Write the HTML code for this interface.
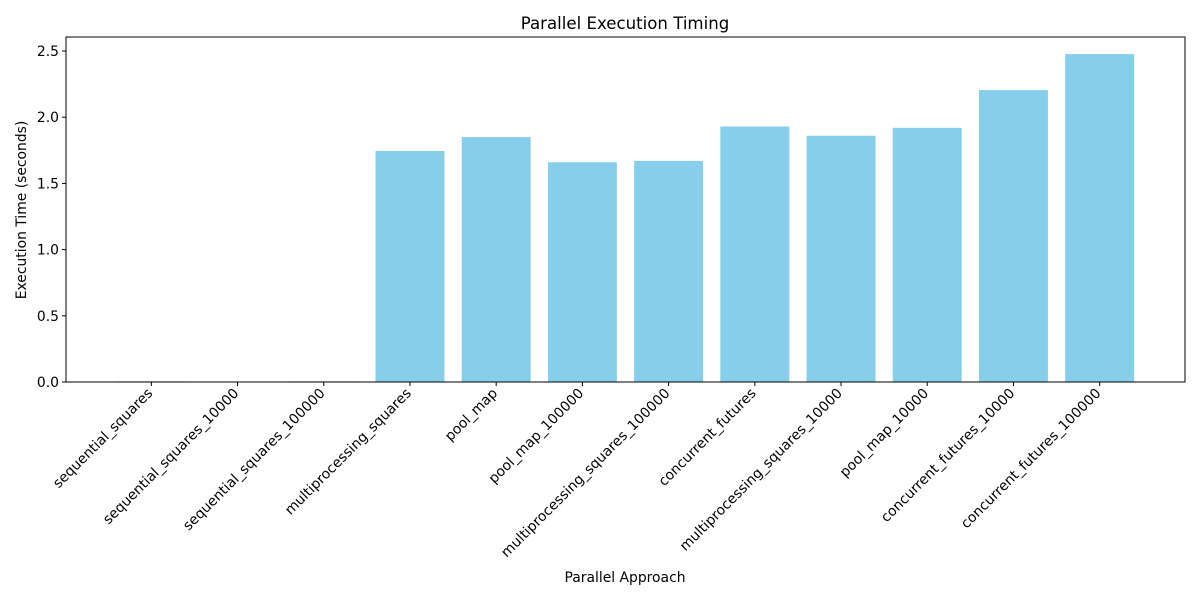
<!DOCTYPE html>
<html><head><meta charset="utf-8"><style>
body{margin:0;background:#fff;font-family:"DejaVu Sans","Liberation Sans",sans-serif;}
svg text{font-family:"DejaVu Sans","Liberation Sans",sans-serif;fill:#000;}
</style></head><body>
<svg id="chart" width="1200" height="600">
<text x="625" y="29" font-size="16.6" text-anchor="middle">Parallel Execution Timing</text>
<text x="625" y="582" font-size="13.9" text-anchor="middle">Parallel Approach</text>
<text transform="translate(26,210) rotate(-90)" font-size="13.9" text-anchor="middle">Execution Time (seconds)</text>
<g id="bars"></g><g id="ticks"></g>
<rect x="66" y="37" width="1119" height="345" fill="none" stroke="#000" stroke-width="1"/>
</svg>
<script>
const categories=["sequential_squares","sequential_squares_10000","sequential_squares_100000","multiprocessing_squares","pool_map","pool_map_100000","multiprocessing_squares_100000","concurrent_futures","multiprocessing_squares_10000","pool_map_10000","concurrent_futures_10000","concurrent_futures_100000"];
const values=[0.005,0.002,0.005,1.745,1.85,1.66,1.67,1.93,1.86,1.92,2.205,2.477];
const yTicks=[0,0.5,1.0,1.5,2.0,2.5];
const yTickLabels=["0.0","0.5","1.0","1.5","2.0","2.5"];
const L=66,R=1185,T=37,B=382;
const xmin=-0.99,xmax=categories.length-1+0.99,ymax=2.606;
const xs=v=>L+(v-xmin)/(xmax-xmin)*(R-L);
const ys=v=>B-v/ymax*(B-T);
const NS="http://www.w3.org/2000/svg";
const bars=document.getElementById('bars'),ticks=document.getElementById('ticks');
const bw=0.8*(R-L)/(xmax-xmin);
categories.forEach((c,i)=>{
 const r=document.createElementNS(NS,'rect');
 r.setAttribute('x',xs(i)-bw/2);r.setAttribute('y',ys(values[i]));
 r.setAttribute('width',bw);r.setAttribute('height',B-ys(values[i]));
 r.setAttribute('fill','#87ceeb');
 
 
 bars.appendChild(r);
 const t=document.createElementNS(NS,'line');
 t.setAttribute('x1',xs(i));t.setAttribute('x2',xs(i));t.setAttribute('y1',B);t.setAttribute('y2',B+4);t.setAttribute('stroke','#000');
 
 
 ticks.appendChild(t);
 const tx=document.createElementNS(NS,'text');
 tx.setAttribute('transform',`translate(${xs(i)+2},${B+12}) rotate(-45)`);
 tx.setAttribute('text-anchor','end');tx.setAttribute('font-size','13.9');
 tx.textContent=c;
 
 
 ticks.appendChild(tx);
});
yTicks.forEach((v,i)=>{
 const t=document.createElementNS(NS,'line');
 t.setAttribute('x1',L-4);t.setAttribute('x2',L);t.setAttribute('y1',ys(v));t.setAttribute('y2',ys(v));t.setAttribute('stroke','#000');
 
 
 ticks.appendChild(t);
 const tx=document.createElementNS(NS,'text');
 tx.setAttribute('x',L-7);tx.setAttribute('y',ys(v)+5);tx.setAttribute('text-anchor','end');tx.setAttribute('font-size','13.9');
 tx.textContent=yTickLabels[i];
 
 
 ticks.appendChild(tx);
});
</script>
</body></html>
